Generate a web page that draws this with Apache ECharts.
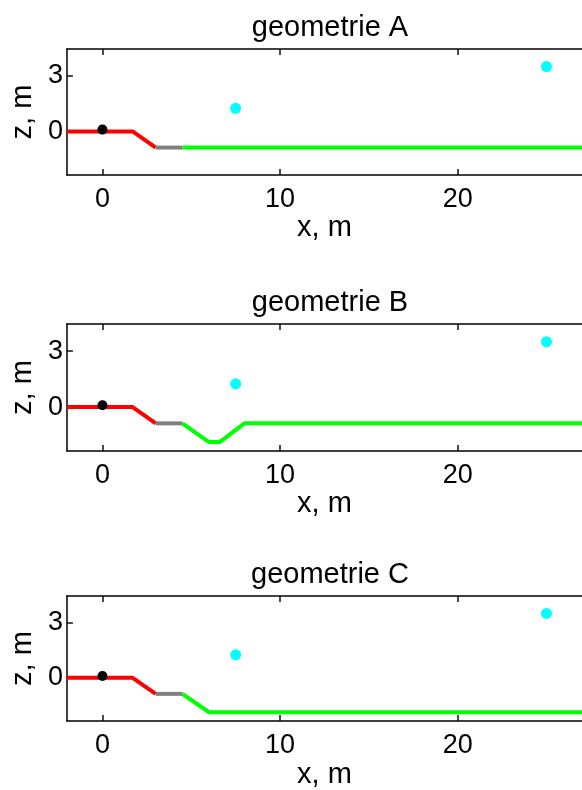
<!DOCTYPE html>
<html>
<head>
<meta charset="utf-8">
<script src="https://cdn.jsdelivr.net/npm/echarts@6/dist/echarts.min.js"></script>
<style>
html,body{margin:0;padding:0;background:#fff;}
#chart{width:582px;height:790px;}
</style>
</head>
<body>
<div id="chart"></div>
<script>
// ---- data ----
const titles = ['geometrie A', 'geometrie B', 'geometrie C'];
const xTicks = [0, 10, 20];
const yTicks = [0, 3];
const xRange = [-2, 27];
const yRange = [-2.35, 4.45];

const redX = [-2, 1.7, 3.0];
const redZ = [0, 0, -0.87];
const grayX = [3.0, 4.5];
const grayZ = [-0.87, -0.87];

const greenAX = [4.5, 27];
const greenAZ = [-0.87, -0.87];
const greenBX = [4.5, 6.0, 6.6, 8.0, 27];
const greenBZ = [-0.87, -1.87, -1.87, -0.87, -0.87];
const greenCX = [4.5, 6.0, 27];
const greenCZ = [-0.87, -1.87, -1.87];

const cyanX = [7.5, 25];
const cyanZ = [1.25, 3.5];
const blackX = [0];
const blackZ = [0.1];

const greens = [[greenAX, greenAZ], [greenBX, greenBZ], [greenCX, greenCZ]];

// ---- layout ----
const FONT = '"Liberation Sans", Arial, Helvetica, sans-serif';
const gridLeft = 66, gridWidth = 524;
const gridTops = [49, 324, 596];
const gridHeights = [126, 127, 127];

function pts(xs, zs) { return xs.map((x, i) => [x, zs[i]]); }

const option = {
  animation: false,
  backgroundColor: '#fff',
  textStyle: { fontFamily: FONT },
  title: [], grid: [], xAxis: [], yAxis: [], series: []
};

const tickStyle = { show: true, inside: true, length: 6, lineStyle: { color: '#111', width: 1.5 } };
const boxLine = { show: true, onZero: false, lineStyle: { color: '#000', width: 1.5 } };

for (let k = 0; k < 3; k++) {
  option.grid.push({
    left: gridLeft, top: gridTops[k], width: gridWidth, height: gridHeights[k],
    show: false
  });
  option.title.push({
    text: titles[k],
    left: gridLeft + gridWidth / 2 - 3, top: gridTops[k] - 41,
    textAlign: 'center',
    textStyle: { fontFamily: FONT, fontSize: 29, fontWeight: 'normal', color: '#000' }
  });
  // bottom x axis
  option.xAxis.push({
    type: 'value', gridIndex: k, position: 'bottom', min: xRange[0], max: xRange[1],
    name: 'x, m', nameLocation: 'middle', nameGap: 37,
    nameTextStyle: { fontFamily: FONT, fontSize: 29, color: '#000' },
    axisLine: boxLine,
    axisTick: Object.assign({ customValues: xTicks }, tickStyle),
    axisLabel: { customValues: xTicks, fontFamily: FONT, fontSize: 27, color: '#000', margin: 11 },
    splitLine: { show: false }
  });
  // top x axis (mirror ticks)
  option.xAxis.push({
    type: 'value', gridIndex: k, position: 'top', min: xRange[0], max: xRange[1],
    axisLine: boxLine,
    axisTick: Object.assign({ customValues: xTicks }, tickStyle),
    axisLabel: { show: false },
    splitLine: { show: false }
  });
  option.yAxis.push({
    type: 'value', gridIndex: k, position: 'left', min: yRange[0], max: yRange[1],
    name: 'z, m', nameLocation: 'middle', nameGap: 29, nameRotate: 90,
    nameTextStyle: { fontFamily: FONT, fontSize: 29, color: '#000' },
    axisLine: boxLine,
    axisTick: Object.assign({ customValues: yTicks }, tickStyle),
    axisLabel: { customValues: yTicks, fontFamily: FONT, fontSize: 27, color: '#000', margin: 4 },
    splitLine: { show: false }
  });

  const xi = k * 2, yi = k;
  const lineBase = { type: 'line', xAxisIndex: xi, yAxisIndex: yi, symbol: 'none', silent: true };
  option.series.push(Object.assign({}, lineBase, { data: pts(redX, redZ), lineStyle: { color: '#ff0000', width: 4 } }));
  option.series.push(Object.assign({}, lineBase, { data: pts(grayX, grayZ), lineStyle: { color: '#808080', width: 4 } }));
  option.series.push(Object.assign({}, lineBase, { data: pts(greens[k][0], greens[k][1]), lineStyle: { color: '#00ff00', width: 4 } }));
  option.series.push({ type: 'scatter', xAxisIndex: xi, yAxisIndex: yi, symbolSize: 11, itemStyle: { color: '#00ffff', opacity: 1 }, data: pts(cyanX, cyanZ), z: 5 });
  option.series.push({ type: 'scatter', xAxisIndex: xi, yAxisIndex: yi, symbolSize: 10, itemStyle: { color: '#000000', opacity: 1 }, data: pts(blackX, blackZ), z: 5 });
}

const chart = echarts.init(document.getElementById('chart'), null, { renderer: 'canvas' });
chart.setOption(option);
</script>
</body>
</html>
